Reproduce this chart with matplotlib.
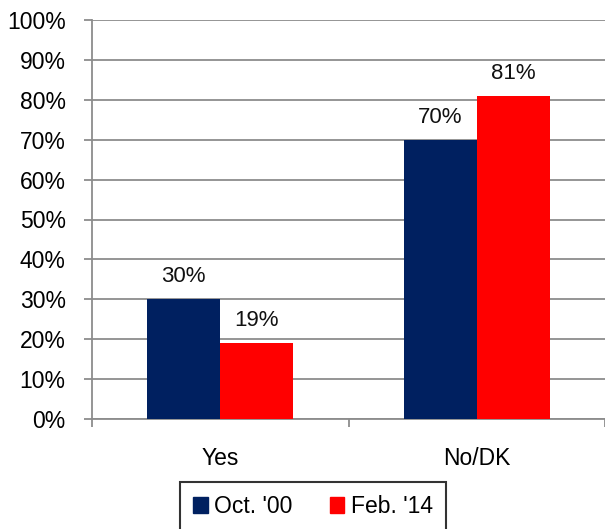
import numpy as np
import matplotlib.pyplot as plt
from matplotlib.patches import Patch

categories = ['Yes', 'No/DK']
series = ["Oct. '00", "Feb. '14"]
oct_00 = [30, 70]
feb_14 = [19, 81]
colors = ['#002060', '#FF0000']

plt.rcParams['font.family'] = ['Liberation Sans', 'DejaVu Sans']
fig = plt.figure(figsize=(6.05, 5.29), dpi=100)
ax = fig.add_axes([92 / 605, 1 - 419 / 529, 513 / 605, 399 / 529])

x = np.arange(len(categories))
w = 0.285
for vals, off, c, lab in [(oct_00, -w / 2, colors[0], series[0]), (feb_14, w / 2, colors[1], series[1])]:
    bars = ax.bar(x + off, vals, w, color=c, label=lab, zorder=3)
    for b, v in zip(bars, vals):
        ax.text(b.get_x() + b.get_width() / 2, v + 3, f'{v}%', ha='center', va='bottom',
                fontsize=16, color='#111111')

ax.set_xlim(-0.5, 1.5)
ax.set_ylim(0, 100)
ax.set_yticks(range(0, 101, 10))
ax.set_yticklabels([f'{t}%' for t in range(0, 101, 10)], fontsize=16.5)
ax.yaxis.grid(True, color='#8c8c8c', lw=1.3, zorder=0)
ax.set_xticks([-0.5, 0.5, 1.5])
ax.set_xticklabels([])
ax.set_xticks(x, minor=True)
ax.set_xticklabels(categories, minor=True, fontsize=16.5)
ax.tick_params(axis='x', which='minor', length=0, pad=20)
ax.tick_params(axis='x', which='major', length=6, color='#8c8c8c', width=1.3)
ax.tick_params(axis='y', length=6, color='#8c8c8c', width=1.3, pad=13)
for s in ['top', 'right']:
    ax.spines[s].set_visible(False)
for s in ['left', 'bottom']:
    ax.spines[s].set_color('#8c8c8c')
    ax.spines[s].set_linewidth(1.3)

handles = [Patch(color=c, label=l) for c, l in zip(colors, series)]
leg = fig.legend(handles=handles, loc='center', bbox_to_anchor=(313 / 605, 1 - 506.5 / 529),
                 ncol=2, frameon=True, fancybox=False, fontsize=16.5, handlelength=0.65,
                 handleheight=0.65, handletextpad=0.3, columnspacing=1.6, borderpad=0.55,
                 borderaxespad=0)
leg.get_frame().set_edgecolor('black')
leg.get_frame().set_linewidth(1.5)

fig.savefig('out.png', dpi=100)
